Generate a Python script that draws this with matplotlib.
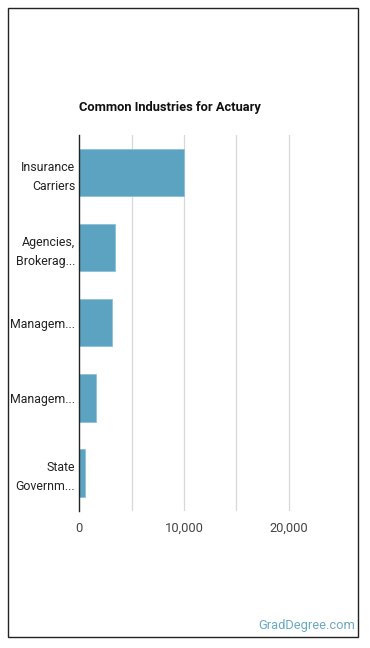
import matplotlib.pyplot as plt
from matplotlib.patches import Rectangle

plt.rcParams['font.family'] = ['Roboto', 'DejaVu Sans']

industries = ["Insurance\nCarriers", "Agencies,\nBrokerag...", "Managem...", "Managem...", "State\nGovernm..."]
employees = [10050, 3440, 3150, 1620, 570]
tick_vals = [0, 10000, 20000]
tick_labels = ["0", "10,000", "20,000"]

fig = plt.figure(figsize=(3.7, 6.48), dpi=100)
fig.patches.append(Rectangle((8 / 370, 1 - 637 / 648), 350 / 370, 629 / 648,
                             transform=fig.transFigure, fill=False,
                             edgecolor='#222222', linewidth=1.0))

ax = fig.add_axes([79.3 / 370, 1 - 510.5 / 648, 261.5 / 370, 375.5 / 648])
y = list(range(len(industries)))
ax.barh(y, employees, height=0.63, color='#5ba3c0', edgecolor='#8cc0d6', linewidth=0.6, zorder=3)
ax.set_ylim(len(industries) - 0.5, -0.5)
ax.set_xlim(0, 25000)

for g in [5000, 10000, 15000, 20000]:
    ax.axvline(g, color='#d8d8d8', linewidth=0.9, zorder=1)

ax.set_xticks(tick_vals)
ax.set_xticklabels(tick_labels, fontsize=9.3, color='#444444')
ax.set_yticks(y)
ax.set_yticklabels(industries, fontsize=8.9, color='#222222', linespacing=1.55)
ax.tick_params(axis='both', length=0)
ax.tick_params(axis='x', pad=8)
ax.tick_params(axis='y', pad=3)
for s in ['top', 'right', 'bottom']:
    ax.spines[s].set_visible(False)
ax.spines['left'].set_color('#222222')
ax.spines['left'].set_linewidth(1.0)
ax.spines['left'].set_zorder(4)

fig.text(79 / 370, 1 - 107 / 648, "Common Industries for Actuary", fontsize=9.3,
         fontweight='bold', color='#111111', ha='left', va='center')
fig.text(355 / 370, 1 - 626 / 648, "GradDegree.com", fontsize=9.3, color='#6aa9c4',
         ha='right', va='center')

fig.savefig('out.png', dpi=100)
